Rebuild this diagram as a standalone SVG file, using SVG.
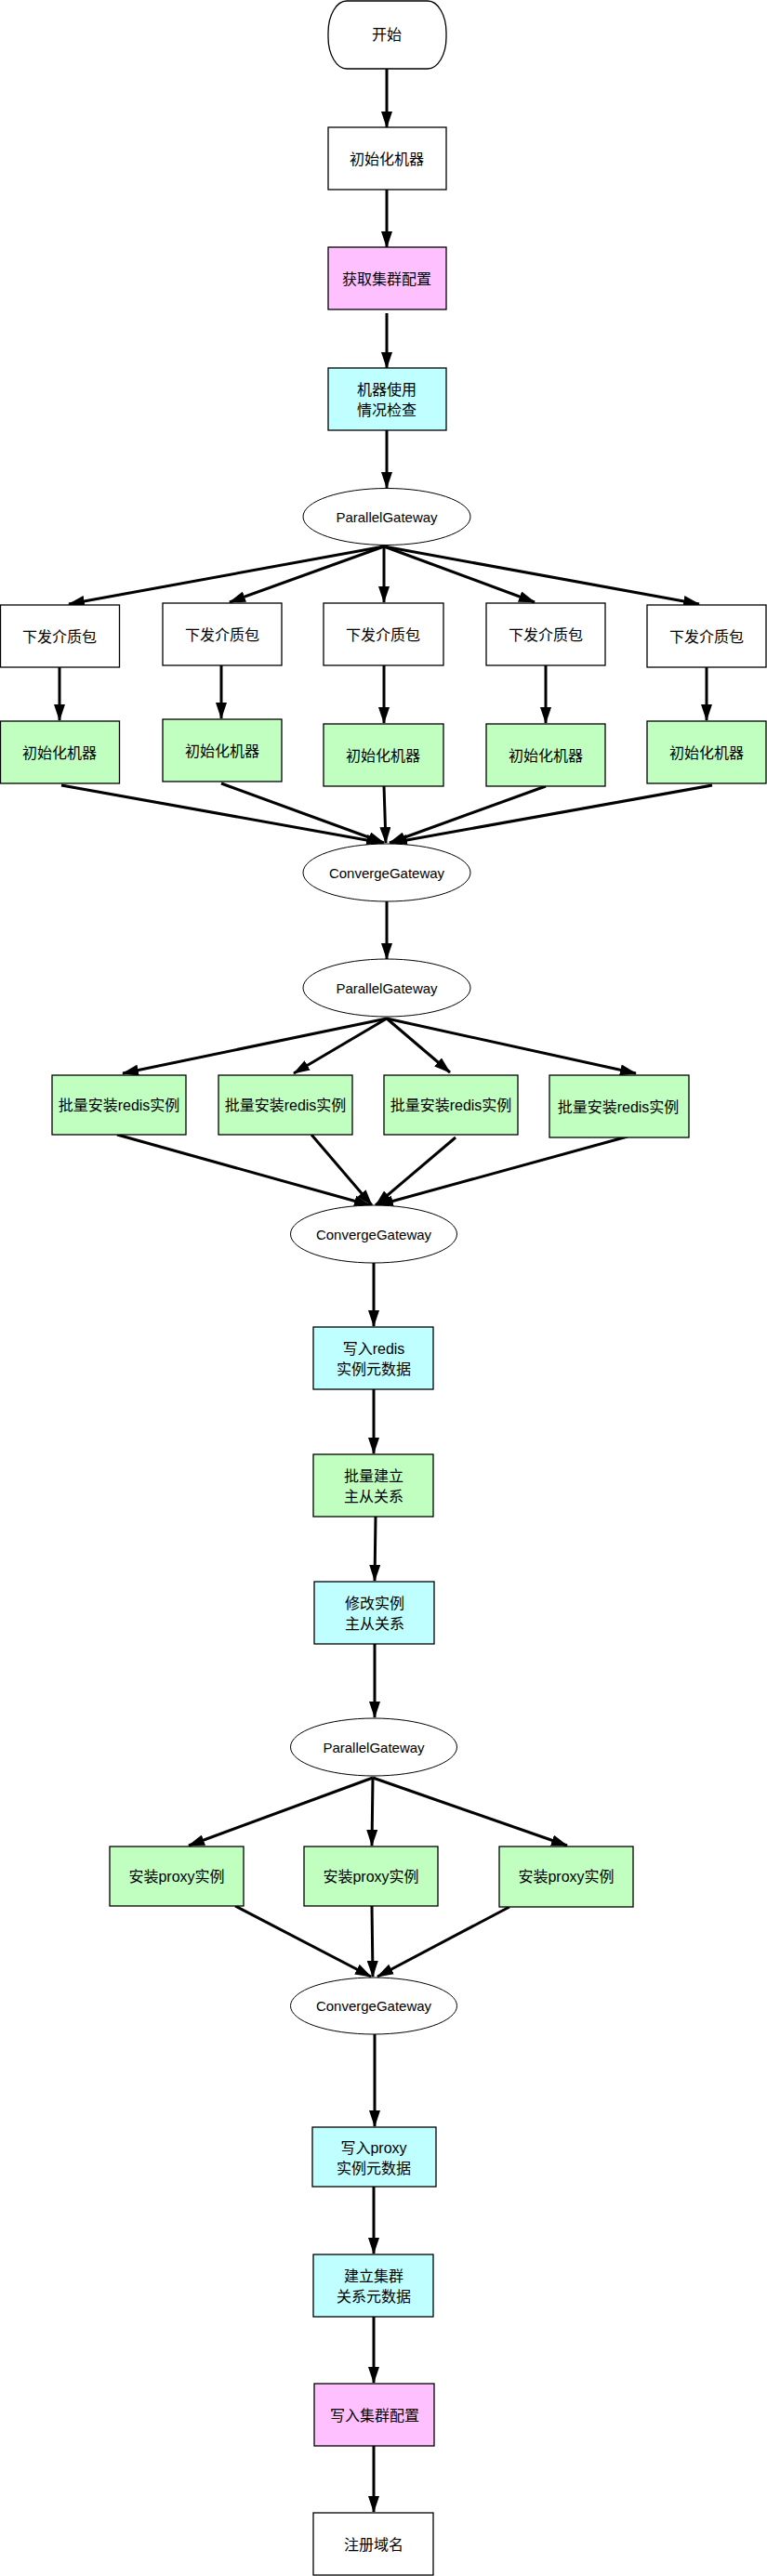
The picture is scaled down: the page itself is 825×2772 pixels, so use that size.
<svg xmlns="http://www.w3.org/2000/svg" width="825" height="2772" viewBox="0 0 825 2772">
<defs>
<style>
.n rect{stroke:#000;stroke-width:1.3}
.n ellipse{fill:#fff;stroke:#000;stroke-width:1}
.w{fill:#fff}.g{fill:#c0ffc0}.c{fill:#c0ffff}.p{fill:#ffc0ff}
text{font-family:"Liberation Sans","Noto Sans CJK SC",sans-serif;font-size:16px;fill:#000;text-anchor:middle;dominant-baseline:central}
text.e{font-size:15px}
#edges line{stroke:#000;stroke-width:3;marker-end:url(#ah)}
</style>
<marker id="ah" markerUnits="userSpaceOnUse" markerWidth="18" markerHeight="12" refX="17" refY="6" orient="auto">
<path d="M0,0 L18,6 L0,12 z" fill="#000"/>
</marker>
</defs>
<rect width="825" height="2772" fill="#fff"/>
<g id="edges">
<line x1="416" y1="74" x2="416" y2="137"/>
<line x1="416" y1="204" x2="416" y2="266"/>
<line x1="416" y1="337" x2="416" y2="396"/>
<line x1="416" y1="463" x2="416" y2="525"/>
<line x1="413" y1="588" x2="74" y2="650"/>
<line x1="413" y1="588" x2="247" y2="648"/>
<line x1="413" y1="588" x2="413" y2="648"/>
<line x1="413" y1="588" x2="575" y2="648"/>
<line x1="413" y1="588" x2="752" y2="650"/>
<line x1="64" y1="718" x2="64" y2="775"/>
<line x1="238" y1="716" x2="238" y2="773"/>
<line x1="413" y1="716" x2="413" y2="778"/>
<line x1="587" y1="716" x2="587" y2="778"/>
<line x1="760" y1="718" x2="760" y2="775"/>
<line x1="66" y1="845" x2="411" y2="907"/>
<line x1="238" y1="843" x2="413" y2="907"/>
<line x1="413" y1="846" x2="415" y2="907"/>
<line x1="587" y1="846" x2="419" y2="907"/>
<line x1="766" y1="845" x2="421" y2="907"/>
<line x1="416" y1="970" x2="416" y2="1032"/>
<line x1="416" y1="1096" x2="132" y2="1155"/>
<line x1="416" y1="1096" x2="316" y2="1155"/>
<line x1="416" y1="1096" x2="484" y2="1154"/>
<line x1="416" y1="1096" x2="684" y2="1155"/>
<line x1="126" y1="1221" x2="398" y2="1297"/>
<line x1="335" y1="1221" x2="400" y2="1297"/>
<line x1="490" y1="1224" x2="404" y2="1297"/>
<line x1="675" y1="1223" x2="406" y2="1297"/>
<line x1="402" y1="1359" x2="402" y2="1427"/>
<line x1="402" y1="1495" x2="402" y2="1564"/>
<line x1="404" y1="1632" x2="403" y2="1701"/>
<line x1="403" y1="1769" x2="403" y2="1848"/>
<line x1="401" y1="1913" x2="203" y2="1986"/>
<line x1="401" y1="1913" x2="400" y2="1986"/>
<line x1="401" y1="1913" x2="610" y2="1986"/>
<line x1="253" y1="2051" x2="399" y2="2127"/>
<line x1="400" y1="2051" x2="401" y2="2127"/>
<line x1="548" y1="2052" x2="406" y2="2127"/>
<line x1="403" y1="2189" x2="403" y2="2288"/>
<line x1="402" y1="2353" x2="402" y2="2425"/>
<line x1="402" y1="2493" x2="402" y2="2564"/>
<line x1="402" y1="2632" x2="402" y2="2703"/>
</g>
<g id="start" class="n"><rect class="w" x="353" y="1" width="127" height="73" rx="20" ry="34"/><text x="416" y="37">开始</text></g>
<g id="init" class="n"><rect class="w" x="353" y="137" width="127" height="67"/><text x="416" y="171">初始化机器</text></g>
<g id="getconf" class="n"><rect class="p" x="353" y="266" width="127" height="67"/><text x="416" y="300">获取集群配置</text></g>
<g id="check" class="n"><rect class="c" x="353" y="396" width="127" height="67"/><text x="416" y="419">机器使用</text><text x="416" y="441">情况检查</text></g>
<g id="pg1" class="n"><ellipse cx="416" cy="556" rx="90" ry="30.5"/><text class="e" x="416" y="556">ParallelGateway</text></g>
<g id="d1" class="n"><rect class="w" x="0.5" y="651" width="128" height="67"/><text x="64" y="685">下发介质包</text></g>
<g id="d2" class="n"><rect class="w" x="175" y="649" width="128" height="67"/><text x="239" y="683">下发介质包</text></g>
<g id="d3" class="n"><rect class="w" x="348" y="649" width="129" height="67"/><text x="412" y="683">下发介质包</text></g>
<g id="d4" class="n"><rect class="w" x="523" y="649" width="128" height="67"/><text x="587" y="683">下发介质包</text></g>
<g id="d5" class="n"><rect class="w" x="696" y="651" width="128" height="67"/><text x="760" y="685">下发介质包</text></g>
<g id="i1" class="n"><rect class="g" x="0.5" y="776" width="128" height="67"/><text x="64" y="810">初始化机器</text></g>
<g id="i2" class="n"><rect class="g" x="175" y="774" width="128" height="67"/><text x="239" y="808">初始化机器</text></g>
<g id="i3" class="n"><rect class="g" x="348" y="779" width="129" height="67"/><text x="412" y="813">初始化机器</text></g>
<g id="i4" class="n"><rect class="g" x="523" y="779" width="128" height="67"/><text x="587" y="813">初始化机器</text></g>
<g id="i5" class="n"><rect class="g" x="696" y="776" width="128" height="67"/><text x="760" y="810">初始化机器</text></g>
<g id="cg1" class="n"><ellipse cx="416" cy="939" rx="90" ry="31"/><text class="e" x="416" y="939">ConvergeGateway</text></g>
<g id="pg2" class="n"><ellipse cx="416" cy="1063" rx="90" ry="31"/><text class="e" x="416" y="1063">ParallelGateway</text></g>
<g id="r1" class="n"><rect class="g" x="56" y="1157" width="144" height="64"/><text x="128" y="1189">批量安装redis实例</text></g>
<g id="r2" class="n"><rect class="g" x="235" y="1157" width="144" height="64"/><text x="307" y="1189">批量安装redis实例</text></g>
<g id="r3" class="n"><rect class="g" x="413" y="1157" width="144" height="64"/><text x="485" y="1189">批量安装redis实例</text></g>
<g id="r4" class="n"><rect class="g" x="591" y="1157" width="150" height="67"/><text x="665" y="1191">批量安装redis实例</text></g>
<g id="cg2" class="n"><ellipse cx="402" cy="1328" rx="89.5" ry="31"/><text class="e" x="402" y="1328">ConvergeGateway</text></g>
<g id="writeRedis" class="n"><rect class="c" x="337" y="1428" width="129" height="67"/><text x="402" y="1451">写入redis</text><text x="402" y="1473">实例元数据</text></g>
<g id="buildMS" class="n"><rect class="g" x="337" y="1565" width="129" height="67"/><text x="402" y="1588">批量建立</text><text x="402" y="1610">主从关系</text></g>
<g id="modMS" class="n"><rect class="c" x="338" y="1702" width="129" height="67"/><text x="403" y="1725">修改实例</text><text x="403" y="1747">主从关系</text></g>
<g id="pg3" class="n"><ellipse cx="402" cy="1880" rx="89.5" ry="31"/><text class="e" x="402" y="1880">ParallelGateway</text></g>
<g id="p1" class="n"><rect class="g" x="118" y="1987" width="144" height="64"/><text x="190" y="2019">安装proxy实例</text></g>
<g id="p2" class="n"><rect class="g" x="327" y="1987" width="144" height="64"/><text x="399" y="2019">安装proxy实例</text></g>
<g id="p3" class="n"><rect class="g" x="537" y="1987" width="144" height="65"/><text x="609" y="2019">安装proxy实例</text></g>
<g id="cg3" class="n"><ellipse cx="402" cy="2158.5" rx="89.5" ry="30.5"/><text class="e" x="402" y="2158">ConvergeGateway</text></g>
<g id="writeProxy" class="n"><rect class="c" x="336" y="2289" width="133" height="64"/><text x="402" y="2311">写入proxy</text><text x="402" y="2333">实例元数据</text></g>
<g id="buildCluster" class="n"><rect class="c" x="337" y="2426" width="129" height="67"/><text x="402" y="2449">建立集群</text><text x="402" y="2471">关系元数据</text></g>
<g id="writeConf" class="n"><rect class="p" x="338" y="2565" width="129" height="67"/><text x="403" y="2599">写入集群配置</text></g>
<g id="dns" class="n"><rect class="w" x="337" y="2704" width="129" height="67"/><text x="402" y="2738">注册域名</text></g>
</svg>
